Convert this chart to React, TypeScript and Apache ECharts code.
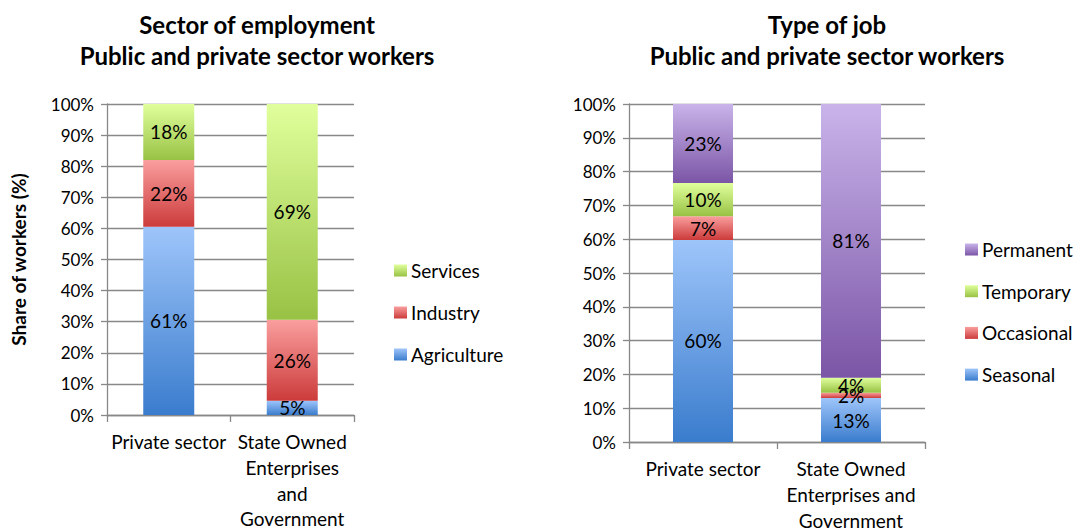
import React, { useEffect, useRef } from "react";
import * as echarts from "echarts";

const categoriesLeft = ["Private sector", "State Owned\nEnterprises\nand\nGovernment"];
const categoriesRight = ["Private sector", "State Owned\nEnterprises and\nGovernment"];

const agriculture = [60.5, 4.6];
const industry = [21.5, 26.0];
const services = [18.0, 69.4];

const seasonal = [59.8, 13.0];
const occasional = [7.0, 1.6];
const temporary = [9.8, 4.4];
const permanent = [23.4, 81.0];

const yTicks = { min: 0, max: 100, interval: 10 };

const FONT = "Lato";

const grad = (top: string, bottom: string) =>
  new echarts.graphic.LinearGradient(0, 0, 0, 1, [
    { offset: 0, color: top },
    { offset: 1, color: bottom },
  ]);

const BLUE = () => grad("#9ec5fa", "#3a7ccd");
const RED = () => grad("#fa9e9e", "#cc3b3b");
const GREEN = () => grad("#e0ff9c", "#98c244");
const PURPLE = () => grad("#c9b4ea", "#7b55a6");

const GRID_COLOR = "#888888";

export default function App() {
  const ref = useRef<HTMLDivElement>(null);

  useEffect(() => {
    if (!ref.current) return;
    const chart = echarts.init(ref.current, undefined, { renderer: "svg" });

    const label = {
      show: true,
      position: "inside" as const,
      color: "#000",
      fontFamily: FONT,
      fontSize: 19,
      formatter: (p: any) => Math.round(p.value) + "%",
    };

    const mkBar = (name: string, data: number[], color: any, idx: number, stack: string, width: number) => ({
      name,
      type: "bar",
      stack,
      xAxisIndex: idx,
      yAxisIndex: idx,
      barWidth: width,
      data,
      itemStyle: { color },
      label,
      emphasis: { disabled: true },
    });

    const yAxisBase = (gridIndex: number) => ({
      type: "value",
      gridIndex,
      ...yTicks,
      axisLine: { show: true, lineStyle: { color: GRID_COLOR, width: 1.3 } },
      axisTick: { show: true, length: 6, lineStyle: { color: GRID_COLOR, width: 1.3 } },
      splitLine: { show: true, lineStyle: { color: GRID_COLOR, width: 1.3 } },
      axisLabel: {
        formatter: "{value}%",
        color: "#000",
        fontFamily: FONT,
        fontSize: 17,
        margin: 13,
      },
    });

    const xAxisBase = (gridIndex: number, data: string[], margin: number) => ({
      type: "category",
      gridIndex,
      data,
      axisLine: { show: true, lineStyle: { color: GRID_COLOR, width: 1.3 } },
      axisTick: { show: true, length: 7, alignWithLabel: false, lineStyle: { color: GRID_COLOR, width: 1.3 } },
      axisLabel: {
        color: "#000",
        fontFamily: FONT,
        fontSize: 19,
        lineHeight: 25.6,
        margin,
        interval: 0,
      },
    });

    const titleStyle = { fontFamily: FONT, fontWeight: "bold" as const, fontSize: 24, lineHeight: 31, color: "#000" };
    const legendText = { fontFamily: FONT, fontSize: 19, color: "#000", padding: [0, 0, 0, -1] };

    chart.setOption({
      animation: false,
      backgroundColor: "#ffffff",
      textStyle: { fontFamily: FONT },
      title: [
        {
          text: "Sector of employment\nPublic and private sector workers",
          left: 252,
          top: 4,
          textAlign: "center",
          textStyle: titleStyle,
        },
        {
          text: "Type of job\nPublic and private sector workers",
          left: 822,
          top: 4,
          textAlign: "center",
          textStyle: titleStyle,
        },
      ],
      legend: [
        {
          data: ["Services", "Industry", "Agriculture"],
          orient: "vertical",
          left: 389,
          top: 256,
          itemWidth: 13,
          itemHeight: 12,
          itemGap: 23,
          icon: "rect",
          textStyle: legendText,
          selectedMode: false,
        },
        {
          data: ["Permanent", "Temporary", "Occasional", "Seasonal"],
          orient: "vertical",
          left: 960,
          top: 235,
          itemWidth: 13,
          itemHeight: 12,
          itemGap: 22.7,
          icon: "rect",
          textStyle: legendText,
          selectedMode: false,
        },
      ],
      grid: [
        { left: 107, right: 727, top: 104, bottom: 114, outerBoundsMode: "none", containLabel: false },
        { left: 629, right: 156, top: 104, bottom: 87, outerBoundsMode: "none", containLabel: false },
      ],
      xAxis: [xAxisBase(0, categoriesLeft, 14), xAxisBase(1, categoriesRight, 14)],
      yAxis: [
        {
          ...yAxisBase(0),
          name: "Share of workers (%)",
          nameLocation: "middle",
          nameGap: 79,
          nameRotate: 90,
          nameTextStyle: { fontFamily: FONT, fontWeight: "bold", fontSize: 19, color: "#000" },
        },
        yAxisBase(1),
      ],
      series: [
        mkBar("Agriculture", agriculture, BLUE(), 0, "left", 51),
        mkBar("Industry", industry, RED(), 0, "left", 51),
        mkBar("Services", services, GREEN(), 0, "left", 51),
        mkBar("Seasonal", seasonal, BLUE(), 1, "right", 60),
        mkBar("Occasional", occasional, RED(), 1, "right", 60),
        mkBar("Temporary", temporary, GREEN(), 1, "right", 60),
        mkBar("Permanent", permanent, PURPLE(), 1, "right", 60),
      ],
    });

    return () => chart.dispose();
  }, []);

  return (
    <div
      ref={ref}
      style={{ position: "fixed", left: 0, top: 0, width: 1081, height: 529, background: "#fff" }}
    />
  );
}
